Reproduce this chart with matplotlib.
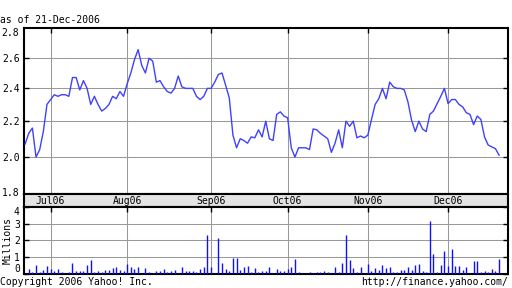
import matplotlib
matplotlib.use("Agg")
import matplotlib.pyplot as plt
from matplotlib.ticker import FixedLocator, NullLocator, FixedFormatter

# daily close, Jun-22-2006 .. Dec-21-2006 (one value per trading day)
price = [
    2.07, 2.13, 2.16, 2.00, 2.04, 2.14, 2.30, 2.33, 2.36, 2.35,
    2.36, 2.36, 2.35, 2.47, 2.47, 2.39, 2.45, 2.40, 2.30, 2.35,
    2.30, 2.26, 2.275, 2.30, 2.35, 2.335, 2.38, 2.35, 2.43, 2.50,
    2.59, 2.66, 2.55, 2.50, 2.60, 2.58, 2.44, 2.45, 2.41, 2.38,
    2.37, 2.40, 2.48, 2.41, 2.40, 2.40, 2.40, 2.35, 2.33, 2.35,
    2.40, 2.40, 2.44, 2.49, 2.50, 2.42, 2.34, 2.12, 2.05, 2.10,
    2.09, 2.075, 2.11, 2.105, 2.15, 2.11, 2.20, 2.10, 2.09, 2.24,
    2.255, 2.23, 2.22, 2.05, 2.00, 2.05, 2.05, 2.05, 2.04, 2.155,
    2.15, 2.13, 2.115, 2.10, 2.025, 2.075, 2.15, 2.05, 2.20, 2.17,
    2.20, 2.105, 2.115, 2.105, 2.12, 2.21, 2.30, 2.335, 2.40, 2.335,
    2.44, 2.41, 2.40, 2.40, 2.39, 2.315, 2.205, 2.14, 2.20, 2.155,
    2.14, 2.24, 2.26, 2.305, 2.35, 2.40, 2.305, 2.33, 2.33, 2.30,
    2.285, 2.25, 2.24, 2.18, 2.23, 2.21, 2.11, 2.065, 2.055, 2.045,
    2.01,
]

# daily volume, millions of shares
volume = [
    0.00, 0.28, 0.12, 0.53, 0.10, 0.22, 0.47, 0.25, 0.16, 0.28,
    0.10, 0.02, 0.08, 0.65, 0.16, 0.16, 0.16, 0.53, 0.83, 0.10,
    0.16, 0.10, 0.22, 0.22, 0.35, 0.40, 0.22, 0.16, 0.59, 0.40,
    0.28, 0.40, 0.03, 0.35, 0.10, 0.03, 0.16, 0.16, 0.28, 0.10,
    0.16, 0.22, 0.03, 0.40, 0.16, 0.16, 0.16, 0.10, 0.28, 0.40,
    2.29, 0.40, 0.03, 2.11, 0.65, 0.28, 0.16, 0.95, 0.95, 0.22,
    0.40, 0.47, 0.10, 0.35, 0.10, 0.16, 0.16, 0.40, 0.03, 0.28,
    0.16, 0.16, 0.28, 0.40, 0.89, 0.10, 0.03, 0.03, 0.10, 0.03,
    0.10, 0.10, 0.16, 0.10, 0.03, 0.40, 0.10, 0.65, 2.29, 0.83,
    0.35, 0.10, 0.40, 0.03, 0.59, 0.16, 0.35, 0.22, 0.53, 0.35,
    0.40, 0.10, 0.10, 0.22, 0.22, 0.40, 0.22, 0.53, 0.59, 0.16,
    0.10, 3.14, 1.20, 0.10, 0.53, 1.38, 0.47, 1.50, 0.47, 0.47,
    0.22, 0.40, 0.03, 0.77, 0.77, 0.10, 0.16, 0.10, 0.28, 0.16,
    0.89,
]

# first trading day of each month (index into the series)
month_idx = [7, 28, 51, 72, 94, 116]
month_labels = ["Jul06", "Aug06", "Sep06", "Oct06", "Nov06", "Dec06"]
price_ticks = [2.0, 2.2, 2.4, 2.6]
price_labels = ["2.0", "2.2", "2.4", "2.6"]
price_lo, price_hi = "1.8", "2.8"   # printed on the bottom/top frame
vol_ticks = [0, 1, 2, 3, 4]

MONO = "DejaVu Sans Mono"
FS = 7
GRID = "#999999"
LINE = "#4040ff"
BAR = "#1010ff"
BAND = "#e4e4e4"

plt.rcParams["font.family"] = MONO
plt.rcParams["font.size"] = FS

x = list(range(len(price)))
xlim = (-0.3, 132.3)

fig = plt.figure(figsize=(5.12, 2.88), dpi=100)
W, H = 512.0, 288.0


def box(left, top, right, bottom):
    return [left / W, 1 - bottom / H, (right - left) / W, (bottom - top) / H]


ax = fig.add_axes(box(24, 28, 507.5, 194.3))
band = fig.add_axes(box(24, 194.3, 507.5, 207))
axv = fig.add_axes(box(24, 207, 507.5, 273.5))

for a in (ax, band, axv):
    for s in a.spines.values():
        s.set_linewidth(1.5)
        s.set_color("black")
    a.set_xlim(*xlim)

tick_kw = dict(direction="in", length=3.5, width=1, left=True, right=True,
               top=True, bottom=False, labelsize=7, pad=3)

# price panel (log scale, like the original)
ax.plot(x, price, color=LINE, lw=1.0, zorder=3)
ax.set_yscale("log")
ax.set_ylim(1.812, 2.817)
ax.yaxis.set_major_locator(FixedLocator(price_ticks))
ax.yaxis.set_major_formatter(FixedFormatter(price_labels))
ax.yaxis.set_minor_locator(NullLocator())
ax.set_xticks(month_idx)
ax.set_xticklabels([])
ax.grid(True, color=GRID, lw=0.75, zorder=1)
ax.tick_params(axis="both", **tick_kw)
ax.annotate(price_hi, xy=(0, 1), xycoords="axes fraction",
            xytext=(-3.5, 0), textcoords="offset points",
            ha="right", va="top", fontsize=7)
ax.annotate(price_lo, xy=(0, 0), xycoords="axes fraction",
            xytext=(-3.5, 1), textcoords="offset points",
            ha="right", va="center", fontsize=7)

# month band
band.set_facecolor(BAND)
band.set_ylim(0, 1)
band.set_yticks([])
band.set_xticks([])
for xi, lab in zip(month_idx, month_labels):
    band.text(xi, 0.45, lab, ha="center", va="center", fontsize=FS)

# volume panel
axv.vlines(x, 0, volume, colors=BAR, lw=1.0, zorder=3)
axv.set_ylim(0, 4)
axv.set_yticks(vol_ticks)
axv.set_xticks(month_idx)
axv.set_xticklabels([])
axv.grid(True, color=GRID, lw=0.75, zorder=1)
axv.tick_params(axis="both", **tick_kw)
vl = axv.get_yticklabels()
vl[0].set_va("bottom")
vl[-1].set_va("top")
fig.text(7.5 / W, 1 - 240 / H, "Millions", rotation=90,
         ha="center", va="center", fontsize=FS)

fig.text(0.5 / W, 1 - 20 / H, "as of 21-Dec-2006", ha="left", va="center",
         fontsize=FS)
fig.text(0.5 / W, 1 - 282 / H, "Copyright 2006 Yahoo! Inc.", ha="left",
         va="center", fontsize=FS)
fig.text(508 / W, 1 - 282 / H, "http://finance.yahoo.com/", ha="right",
         va="center", fontsize=FS)

fig.savefig("out.png", dpi=100, facecolor="white")
